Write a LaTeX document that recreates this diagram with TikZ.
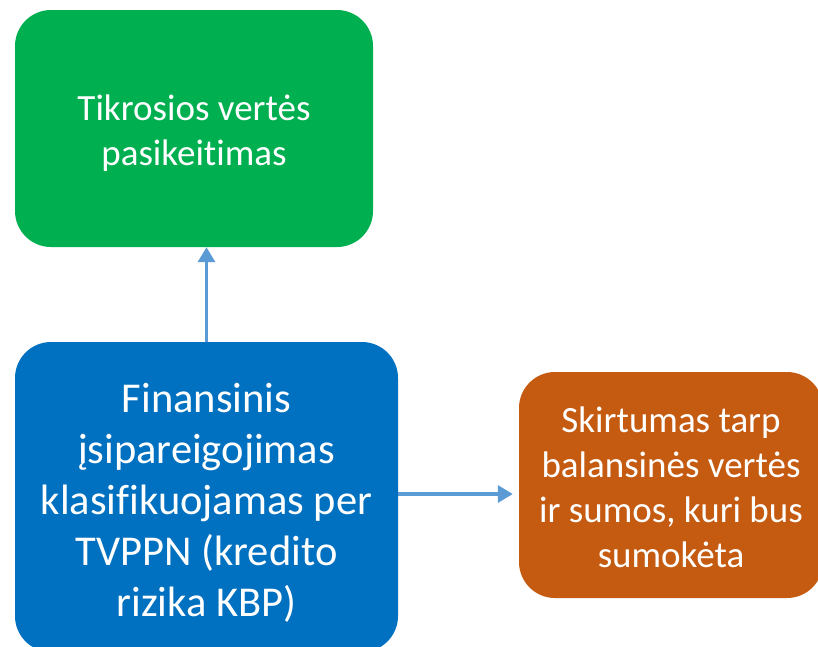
\documentclass[tikz,border=0pt]{standalone}
\usepackage{fontspec}
\setmainfont{Carlito}[Ligatures={NoCommon}]
\usetikzlibrary{arrows.meta}
\definecolor{boxgreen}{HTML}{00B050}
\definecolor{boxblue}{HTML}{0070C0}
\definecolor{boxorange}{HTML}{C55A11}
\definecolor{arrowblue}{HTML}{5B9BD5}

\begin{document}
\begin{tikzpicture}[x=1pt, y=-1pt,
  block/.style={rectangle, rounded corners=36pt, inner sep=0},
  blocktext/.style={text=white, align=center, inner sep=0},
  link/.style={arrowblue, line width=3.4pt, -{Triangle[length=15pt, width=17pt]}}]
\useasboundingbox (0,0) rectangle (818,646);
% boxes
\node[block, fill=boxgreen, minimum width=358pt, minimum height=237pt] (fair) at (194,128.5) {};
\node[block, fill=boxblue, minimum width=383pt, minimum height=310pt] (liab) at (206.5,497) {};
\node[block, fill=boxorange, minimum width=304pt, minimum height=226pt] (diff) at (671,485) {};
% texts
\node[blocktext, font=\fontsize{37}{45}\selectfont] (fairtext) at (194,133)
  {Tikrosios vertės\\pasikeitimas};
\node[blocktext, font=\fontsize{42.5}{51}\selectfont] (liabtext) at (206.5,503)
  {Finansinis\\įsipareigojimas\\klasifikuojamas per\\TVPPN (kredito\\rizika KBP)};
\node[blocktext, font=\fontsize{37}{45}\selectfont] (difftext) at (671,487.5)
  {Skirtumas tarp\\balansinės vertės\\ir sumos, kuri bus\\sumokėta};
% arrows
\coordinate (tipup) at (liab.north |- fair.south);
\coordinate (tipright) at ([xshift=-6pt]diff.west |- 0,494);
\draw[link] (liab.north) -- (tipup);
\draw[link] (liab.east |- tipright) -- (tipright);
\end{tikzpicture}
\end{document}
